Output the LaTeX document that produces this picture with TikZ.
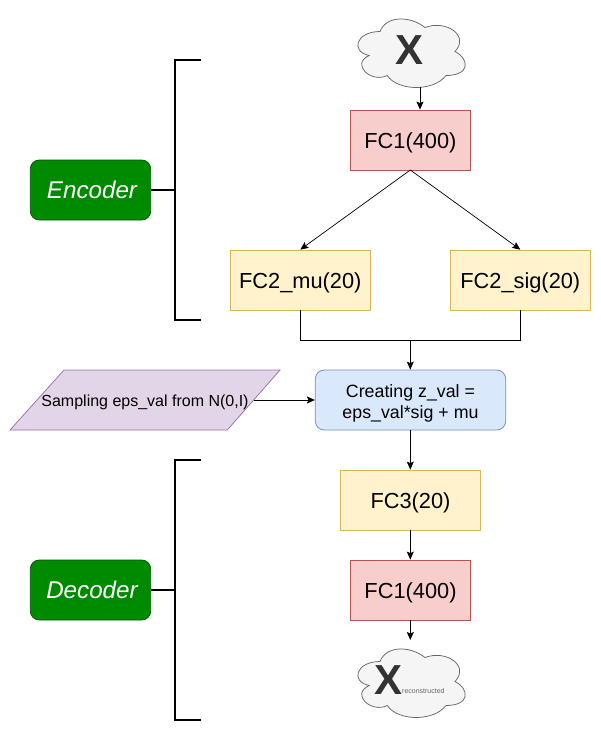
\documentclass[tikz,border=0pt]{standalone}
\usepackage{fontspec}
\setmainfont{Liberation Sans}
\usetikzlibrary{arrows.meta}
\definecolor{redf}{HTML}{F8CECC}\definecolor{redd}{HTML}{B85450}
\definecolor{yelf}{HTML}{FFF2CC}\definecolor{yeld}{HTML}{D6B656}
\definecolor{purf}{HTML}{E1D5E7}\definecolor{purd}{HTML}{9673A6}
\definecolor{bluf}{HTML}{DAE8FC}\definecolor{blud}{HTML}{6C8EBF}
\definecolor{grnf}{HTML}{008A00}\definecolor{grnd}{HTML}{005700}
\definecolor{cldf}{HTML}{F5F5F5}\definecolor{cldd}{HTML}{666666}
\definecolor{xtxt}{HTML}{333333}
\newcommand{\cloudshape}[2]{%
\begin{scope}[shift={(#1,#2)},x=120pt,y=-80pt]
\draw[draw=cldd,fill=cldf,line width=.75pt]
(.25,.25) .. controls (.05,.25) and (0,.5) .. (.16,.55)
.. controls (0,.66) and (.18,.9) .. (.31,.8)
.. controls (.4,1) and (.7,1) .. (.8,.8)
.. controls (1,.8) and (1,.6) .. (.875,.5)
.. controls (1,.3) and (.8,.1) .. (.625,.2)
.. controls (.5,.05) and (.3,.05) .. (.25,.25) -- cycle;
\end{scope}}
\tikzset{
 every node/.style={inner sep=0pt,align=center},
 box/.style={draw,line width=.75pt,minimum height=60pt},
 fctext/.style={font=\fontsize{21.8}{26}\selectfont,text height=16pt,text depth=0pt},
 fcred/.style={box,fctext,fill=redf,draw=redd,minimum width=120pt},
 fcyel/.style={box,fctext,fill=yelf,draw=yeld,minimum width=140pt},
 zbox/.style={box,rounded corners=9pt,fill=bluf,draw=blud,minimum width=190.4pt,font=\fontsize{17.8}{21}\selectfont,text height=36.6pt,text depth=0pt},
 tag/.style={box,rounded corners=9pt,fill=grnf,draw=grnd,minimum width=120.4pt,text=white,font=\fontsize{24.2}{28}\selectfont\itshape,text height=16.6pt,text depth=0pt},
 conn/.style={line width=.9pt,-{Stealth[length=8pt,width=7pt,inset=1.5pt]}},
 thin conn/.style={line width=.7pt,-{Stealth[length=8pt,width=7pt,inset=1.5pt]}},
 plain/.style={line width=.9pt},
 brace/.style={line width=1.6pt},
 bigx/.style={font=\fontsize{42}{46}\selectfont\bfseries,text=xtxt},
 sampl/.style={font=\fontsize{16}{19}\selectfont,text height=12pt,text depth=0pt}
}
\begin{document}
\begin{tikzpicture}[x=1pt,y=-1pt]
\useasboundingbox (0,0) rectangle (601,732);
\cloudshape{350}{11.5}
\cloudshape{350}{641.5}
\node[bigx] (xin) at (410,50) {X};
\node[bigx] (xr) at (389,680.5) {X};
\node[font=\fontsize{7}{8}\selectfont,text=cldd,anchor=west] (xrs) at (402,691) {reconstructed};
\node[fcred] (fc1a) at (410.4,140) {FC1(400)};
\node[fcyel] (mu) at (300.3,280) {FC2\_mu(20)};
\node[fcyel] (sig) at (520.3,280) {FC2\_sig(20)};
\node[zbox] (z) at (410.5,400) {Creating z\_val =\\eps\_val*sig + mu};
\node[fcyel] (fc3) at (410.5,500) {FC3(20)};
\node[fcred] (fc1b) at (410.5,590) {FC1(400)};
\node[tag] (enc) at (90.5,190) {\kern3pt Encoder};
\node[tag] (dec) at (90.5,590) {\kern3pt Decoder};
\coordinate (pa) at (10,430);\coordinate (pb) at (64,370);\coordinate (pc) at (280,370);\coordinate (pd) at (227.3,430);
\draw[fill=purf,draw=purd,line width=.75pt] (pa)--(pb)--(pc)--(pd)--cycle;
\node[sampl] (samp) at (145,400) {Sampling eps\_val from N(0,I)};
\coordinate (sampe) at (254,400);
\coordinate (fc1o) at (410.3,170);
\coordinate (join) at (410.3,340);
\coordinate (et) at (201,60);\coordinate (eb) at (201,320);\coordinate (em) at (175,190);
\coordinate (dt) at (201,460);\coordinate (db) at (201,720);\coordinate (dm) at (175,590);
\coordinate (xa) at (420,87);
\coordinate (xb) at (410.3,640);
\draw[conn] (xa) -- (xa |- fc1a.north);
\draw[thin conn] (fc1o) -- (mu.north);
\draw[thin conn] (fc1o) -- (sig.north);
\draw[plain] (mu.south) |- (join);
\draw[plain] (sig.south) |- (join);
\draw[conn] (join) -- (z.north -| join);
\draw[conn] (sampe) -- (z.west |- sampe);
\draw[conn] (z.south -| join) -- (fc3.north -| join);
\draw[conn] (fc3.south -| join) -- (fc1b.north -| join);
\draw[conn] (fc1b.south -| join) -- (xb);
\draw[brace] (et) -| (em |- eb) -- (eb);
\draw[brace] (enc.east |- em) -- (em);
\draw[brace] (dt) -| (dm |- db) -- (db);
\draw[brace] (dec.east |- dm) -- (dm);
\end{tikzpicture}
\end{document}
